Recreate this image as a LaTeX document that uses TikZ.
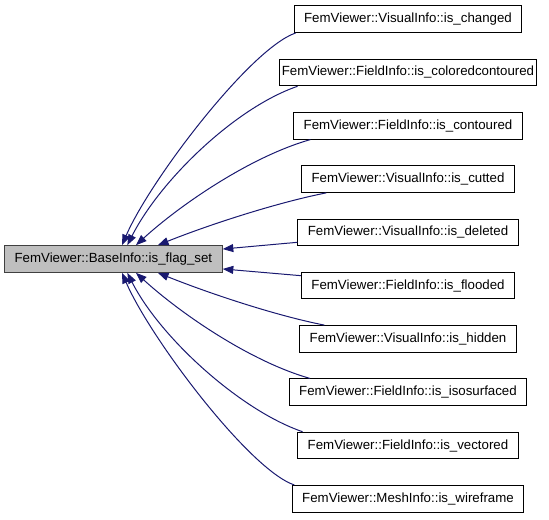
\documentclass[tikz,border=0pt]{standalone}
\usepackage{fontspec}
\setmainfont{Liberation Sans}
\usepackage{xcolor}
\usetikzlibrary{arrows.meta}
\definecolor{callblue}{RGB}{25,25,112}

\begin{document}
\begin{tikzpicture}[
          func/.style={draw, line width=0.8pt, minimum height=20pt, inner xsep=7.5pt, inner ysep=0pt, font=\fontsize{10}{12}\selectfont},
          call/.style={-{Triangle[length=8pt, width=6pt]}, line width=0.75pt, draw=callblue}
      ]
        \useasboundingbox (0,0) rectangle (14.526,13.758);
        \node[func, fill=black!25, draw=black!75] (root) at (3.0,6.905) {FemViewer::BaseInfo::is\_flag\_set};
        \node[func] (changed) at (10.795,13.25) {FemViewer::VisualInfo::is\_changed};
        \node[func, inner xsep=1.8pt] (colored) at (10.795,11.84) {FemViewer::FieldInfo::is\_coloredcontoured};
        \node[func] (contoured) at (10.795,10.43) {FemViewer::FieldInfo::is\_contoured};
        \node[func] (cutted) at (10.795,9.02) {FemViewer::VisualInfo::is\_cutted};
        \node[func] (deleted) at (10.795,7.61) {FemViewer::VisualInfo::is\_deleted};
        \node[func] (flooded) at (10.795,6.20) {FemViewer::FieldInfo::is\_flooded};
        \node[func] (hidden) at (10.795,4.79) {FemViewer::VisualInfo::is\_hidden};
        \node[func] (iso) at (10.795,3.38) {FemViewer::FieldInfo::is\_isosurfaced};
        \node[func] (vectored) at (10.795,1.97) {FemViewer::FieldInfo::is\_vectored};
        \node[func] (wireframe) at (10.795,0.56) {FemViewer::MeshInfo::is\_wireframe};
        % callers above the root
        \draw[call] ([xshift=1.5pt]changed.south west) .. controls +(-1.19,-0.40) and +(0.74,1.72) .. ([xshift=6.5pt]root.north);
        \draw[call] ([xshift=14pt]colored.south west) .. controls +(-1.64,-0.56) and +(0.87,1.72) .. ([xshift=10.5pt]root.north);
        \draw[call] ([xshift=13pt]contoured.south west) .. controls +(-1.59,-0.45) and +(1.16,1.06) .. ([xshift=17pt]root.north);
        \draw[call] ([xshift=19pt]cutted.south west) .. controls +(-1.32,-0.26) and +(1.32,0.53) .. ([xshift=33.5pt]root.north);
        % callers beside the root
        \draw[call] ([yshift=-7.5pt]deleted.west) -- ([yshift=7.5pt]root.east);
        \draw[call] ([yshift=7.5pt]flooded.west) -- ([yshift=-7.5pt]root.east);
        % callers below the root
        \draw[call] ([xshift=19pt]hidden.north west) .. controls +(-1.32,0.26) and +(1.32,-0.53) .. ([xshift=33.5pt]root.south);
        \draw[call] ([xshift=16pt]iso.north west) .. controls +(-1.59,0.45) and +(1.16,-1.06) .. ([xshift=17pt]root.south);
        \draw[call] ([xshift=4pt]vectored.north west) .. controls +(-1.64,0.56) and +(0.87,-1.72) .. ([xshift=10.5pt]root.south);
        \draw[call] ([xshift=2pt]wireframe.north west) .. controls +(-1.19,0.40) and +(0.74,-1.72) .. ([xshift=6.5pt]root.south);
      \end{tikzpicture}
\end{document}
